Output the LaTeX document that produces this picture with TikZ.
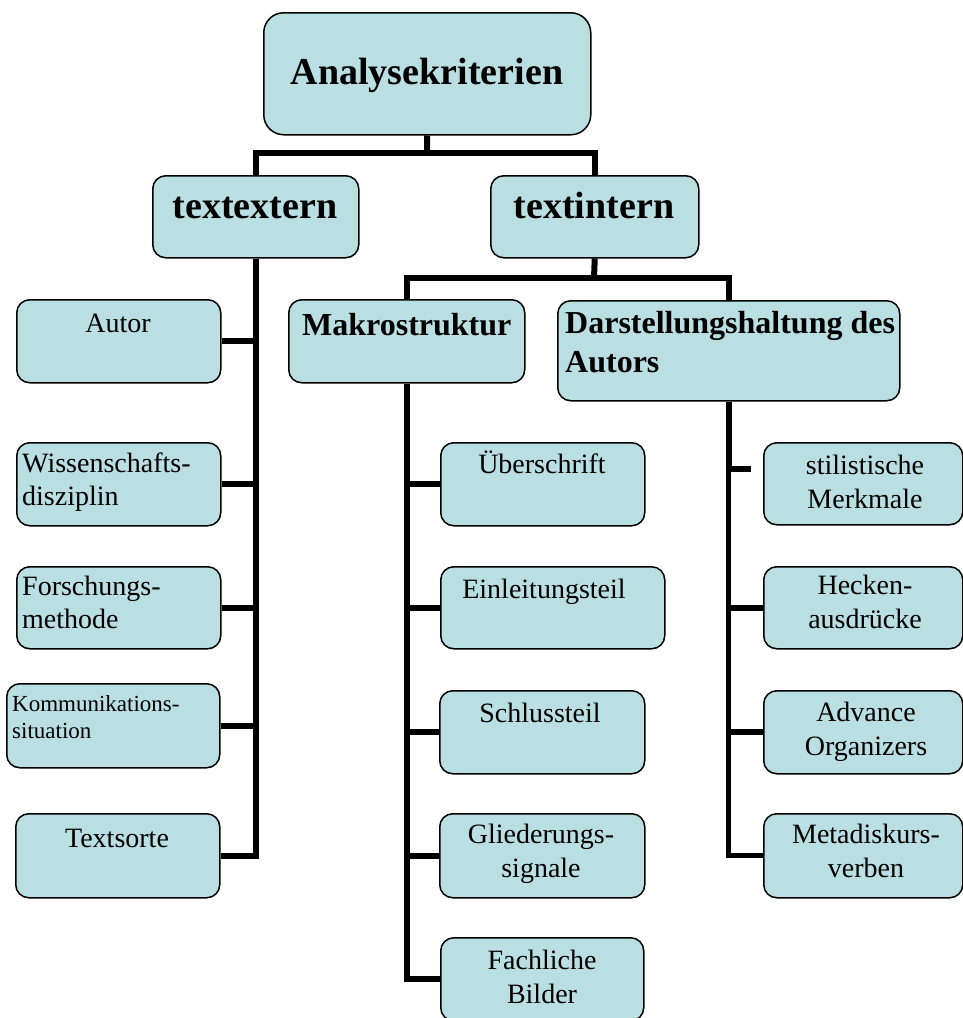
\documentclass[tikz,border=0pt]{standalone}
\usepackage{fontspec}
\setmainfont{Liberation Serif}
\definecolor{boxfill}{RGB}{186,223,226}
\tikzset{
  box/.style={draw=black, line width=1.5pt, fill=boxfill, rounded corners=13pt, inner sep=0pt, anchor=north west},
  conn/.style={draw=black, line width=6pt, line join=miter},
  big/.style={font=\fontsize{38}{42}\selectfont\bfseries, inner sep=0pt},
  mid/.style={font=\fontsize{32}{39}\selectfont\bfseries, inner sep=0pt, align=left},
  reg/.style={font=\fontsize{28}{34}\selectfont, inner sep=0pt, align=center},
  regl/.style={font=\fontsize{28}{33}\selectfont, inner sep=0pt, align=left},
  small/.style={font=\fontsize{23}{27}\selectfont, inner sep=0pt, align=left},
}
\begin{document}
\begin{tikzpicture}[x=1pt, y=-1pt]
\useasboundingbox (0,0) rectangle (963,1018);

% boxes
\node[box, rounded corners=20pt, minimum width=327pt, minimum height=122pt] (ana) at (263,12) {};
\node[box, minimum width=206pt, minimum height=82pt] (ext) at (152,175) {};
\node[box, minimum width=208pt, minimum height=82pt] (int) at (490,175) {};
\node[box, minimum width=236pt, minimum height=83pt] (makro) at (288,299) {};
\node[box, minimum width=342pt, minimum height=100pt] (darst) at (557,300) {};

\node[box, minimum width=204pt, minimum height=83pt] (autor) at (16,299) {};
\node[box, minimum width=204pt, minimum height=83pt] (wiss) at (16,442) {};
\node[box, minimum width=204pt, minimum height=82pt] (forsch) at (16,566) {};
\node[box, minimum width=213pt, minimum height=84pt] (komm) at (6,683) {};
\node[box, minimum width=204pt, minimum height=84pt] (sorte) at (15,813) {};

\node[box, minimum width=204pt, minimum height=83pt] (ueber) at (440,442) {};
\node[box, minimum width=224pt, minimum height=82pt] (einl) at (440,566) {};
\node[box, minimum width=205pt, minimum height=83pt] (schluss) at (439,690) {};
\node[box, minimum width=205pt, minimum height=84pt] (glied) at (439,813) {};
\node[box, minimum width=203pt, minimum height=83pt] (fach) at (440,937) {};

\node[box, minimum width=199pt, minimum height=82pt] (stil) at (763,442) {};
\node[box, minimum width=199pt, minimum height=82pt] (hecken) at (763,566) {};
\node[box, minimum width=199pt, minimum height=83pt] (adv) at (763,690) {};
\node[box, minimum width=199pt, minimum height=84pt] (meta) at (763,813) {};

% connectors
\coordinate (bar1) at (427,153);
\coordinate (bar2) at (594,278);
\coordinate (stub) at (751,469);
\draw[conn] (ana.south) -- (bar1);
\draw[conn] (ext.north) |- (bar1);
\draw[conn] (int.north) |- (bar1);
\draw[conn] (int.south) -- (bar2);
\draw[conn] (makro.north) |- (bar2);
\draw[conn] (darst.north) |- (bar2);

\draw[conn] (ext.south) |- (sorte.east);
\draw[conn] (autor.east) -- (autor.east -| ext.south);
\draw[conn] (wiss.east) -- (wiss.east -| ext.south);
\draw[conn] (forsch.east) -- (forsch.east -| ext.south);
\draw[conn] (komm.east) -- (komm.east -| ext.south);

\draw[conn] (makro.south) |- (fach.west);
\draw[conn] (ueber.west) -- (ueber.west -| makro.south);
\draw[conn] (einl.west) -- (einl.west -| makro.south);
\draw[conn] (schluss.west) -- (schluss.west -| makro.south);
\draw[conn] (glied.west) -- (glied.west -| makro.south);

\draw[conn] (darst.south) |- (stub);
\draw[conn, line width=5pt] (darst.south |- stub) |- (meta.west);
\draw[conn] (hecken.west) -- (hecken.west -| darst.south);
\draw[conn] (adv.west) -- (adv.west -| darst.south);

% texts (multi-line: anchor at baseline of last line)
\node[big, anchor=base] (ana-t) at (427,84) {Analysekriterien};
\node[big, anchor=base] (ext-t) at (255,218) {textextern};
\node[big, anchor=base] (int-t) at (594,218) {textintern};
\node[mid, anchor=base west] (makro-t) at (302,335) {Makrostruktur};
\node[mid, anchor=base west] (darst-t) at (565,372) {Darstellungshaltung des\\Autors};

\node[reg, anchor=base] (autor-t) at (118,332) {Autor};
\node[regl, anchor=base west] (wiss-t) at (22,505) {Wissenschafts-\\disziplin};
\node[regl, anchor=base west] (forsch-t) at (22,628) {Forschungs-\\methode};
\node[small, anchor=base west] (komm-t) at (12,738) {Kommunikations-\\situation};
\node[reg, anchor=base] (sorte-t) at (117,847) {Textsorte};

\node[reg, anchor=base] (ueber-t) at (542,473) {Überschrift};
\node[reg, anchor=base] (einl-t) at (544,598) {Einleitungsteil};
\node[reg, anchor=base] (schluss-t) at (540,722) {Schlussteil};
\node[reg, anchor=base] (glied-t) at (541,877) {Gliederungs-\\signale};
\node[reg, anchor=base] (fach-t) at (542,1003) {Fachliche\\Bilder};

\node[reg, anchor=base] (stil-t) at (865,508) {stilistische\\Merkmale};
\node[reg, anchor=base] (hecken-t) at (865,628) {Hecken-\\ausdrücke};
\node[reg, anchor=base] (adv-t) at (866,755) {Advance\\Organizers};
\node[reg, anchor=base] (meta-t) at (866,877) {Metadiskurs-\\verben};
\end{tikzpicture}
\end{document}
